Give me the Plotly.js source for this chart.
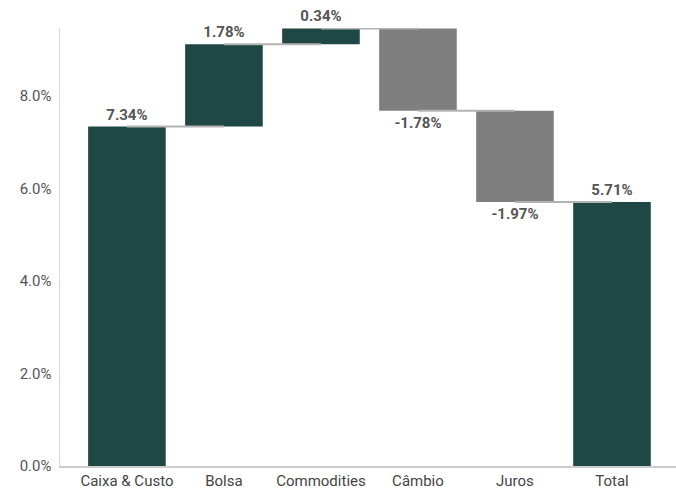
<!DOCTYPE html>
<html>
<head>
<meta charset="utf-8">
<script src="https://cdn.plot.ly/plotly-3.0.1.min.js"></script>
<style>html,body{margin:0;padding:0;background:#fff;}#chart{width:676px;height:488px;}</style>
</head>
<body>
<div id="chart"></div>
<script>
const categories = ["Caixa & Custo", "Bolsa", "Commodities", "Câmbio", "Juros", "Total"];
const values = [7.34, 1.78, 0.34, -1.78, -1.97, 5.71];
const measures = ["relative", "relative", "relative", "relative", "relative", "total"];
const yTicks = [0, 2, 4, 6, 8];

const FONT = "'Roboto', sans-serif";
const green = "#1f4746";
const gray = "#7f7f7f";

const labels = values.map(v => v.toFixed(2) + "%");

// cumulative levels for connectors
const levels = [];
let run = 0;
values.forEach((v, i) => {
  if (measures[i] === "total") run = v; else run += v;
  levels.push(run);
});
const shapes = [];
for (let i = 0; i < values.length - 1; i++) {
  shapes.push({
    type: "line", xref: "x", yref: "y",
    x0: i, x1: i + 1, y0: levels[i], y1: levels[i],
    line: {color: "#b3b3b3", width: 2}, layer: "above"
  });
}

const trace = {
  type: "waterfall",
  x: categories,
  y: values,
  measure: measures,
  text: labels,
  textposition: "outside",
  textfont: {family: FONT, size: 15, color: "#555555", weight: "bold"},
  cliponaxis: false,
  connector: {visible: false},
  increasing: {marker: {color: green}},
  decreasing: {marker: {color: gray}},
  totals: {marker: {color: green}},
  hoverinfo: "skip"
};

const layout = {
  width: 676, height: 488,
  margin: {l: 60, r: 0, t: 28, b: 22},
  paper_bgcolor: "#fff", plot_bgcolor: "#fff",
  showlegend: false,
  waterfallgap: 0.2,
  font: {family: FONT, color: "#555555"},
  xaxis: {
    type: "category",
    range: [-0.69, 5.66],
    showgrid: false, zeroline: false,
    showline: true, linecolor: "#cccccc", linewidth: 1.5,
    ticks: "",
    ticklabelstandoff: 0,
    tickfont: {family: FONT, size: 15, color: "#444444"},
    fixedrange: true
  },
  yaxis: {
    range: [0, 9.47],
    tickvals: yTicks,
    ticktext: yTicks.map(t => t.toFixed(1) + "%"),
    showgrid: false, zeroline: false,
    showline: true, linecolor: "#d9d9d9", linewidth: 1.5,
    ticks: "",
    ticklabelstandoff: 4,
    tickfont: {family: FONT, size: 15, color: "#555555"},
    fixedrange: true
  },
  shapes: shapes
};

Plotly.newPlot("chart", [trace], layout, {displayModeBar: false, staticPlot: true});
</script>
</body>
</html>
